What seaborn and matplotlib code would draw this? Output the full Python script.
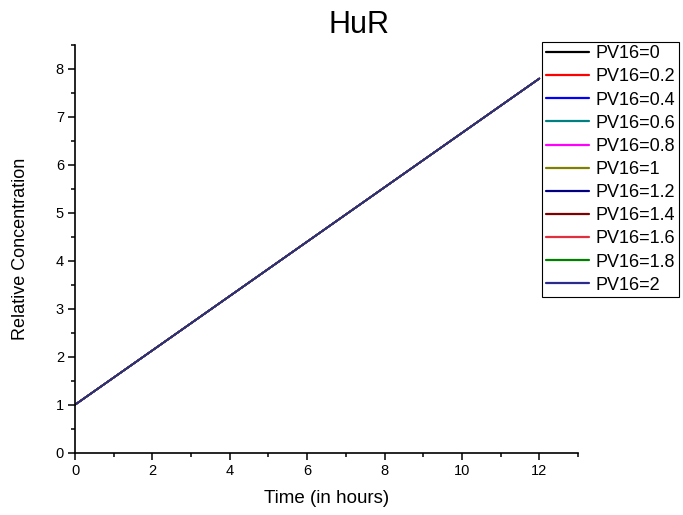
import matplotlib
matplotlib.use("Agg")
import matplotlib.pyplot as plt
import seaborn as sns
import pandas as pd
from matplotlib.ticker import MultipleLocator

# Data
time_hours = [0, 12]
concentration = [1.0, 7.8]
pv16_labels = ["PV16=0", "PV16=0.2", "PV16=0.4", "PV16=0.6", "PV16=0.8", "PV16=1",
               "PV16=1.2", "PV16=1.4", "PV16=1.6", "PV16=1.8", "PV16=2"]
series_colors = ["#000000", "#FF0000", "#0000FF", "#008080", "#FF00FF", "#808000",
                 "#000080", "#800000", "#E0303F", "#008000", "#2B2B8C"]

rows = []
for lab in pv16_labels:
    for t, c in zip(time_hours, concentration):
        rows.append({"Time": t, "Conc": c, "PV16": lab})
df = pd.DataFrame(rows)

sns.set_style("ticks")
plt.rcParams["font.family"] = ["Liberation Sans", "DejaVu Sans"]
plt.rcParams["text.color"] = "black"
plt.rcParams["axes.labelcolor"] = "black"

fig = plt.figure(figsize=(6.83, 5.15), dpi=100)
ax = fig.add_axes([75 / 683, 1 - 452.7 / 515, (578 - 75) / 683, (452.7 - 45) / 515])

sns.lineplot(data=df, x="Time", y="Conc", hue="PV16", hue_order=pv16_labels,
             palette=dict(zip(pv16_labels, series_colors)), linewidth=1.2, ax=ax,
             legend=True)

ax.set_xlim(0, 13)
ax.set_ylim(0, 8.5)
ax.xaxis.set_major_locator(MultipleLocator(2))
ax.xaxis.set_minor_locator(MultipleLocator(1))
ax.yaxis.set_major_locator(MultipleLocator(1))
ax.yaxis.set_minor_locator(MultipleLocator(0.5))
ax.tick_params(which="major", direction="out", length=5, width=1.1, labelsize=10.5, pad=3, color="black", labelcolor="black")
ax.tick_params(which="minor", direction="out", length=3, width=1.1, color="black")
for s in ["top", "right"]:
    ax.spines[s].set_visible(False)
for s in ["left", "bottom"]:
    ax.spines[s].set_linewidth(1.2)
    ax.spines[s].set_color("black")

ax.set_xlabel("Time (in hours)", fontsize=13.5, labelpad=9)
ax.set_ylabel("Relative Concentration", fontsize=13, labelpad=19)

fig.text(359 / 683, 1 - 25 / 515, "HuR", fontsize=22, ha="center", va="center", color="black")

leg = ax.legend(loc="upper left", bbox_to_anchor=(542 / 683, 1 - 41.7 / 515),
                bbox_transform=fig.transFigure, borderaxespad=0, fontsize=13,
                handlelength=2.38, handletextpad=0.39, labelspacing=0.34,
                borderpad=0.2, frameon=True, fancybox=False, title=None)
leg.get_frame().set_edgecolor("black")
leg.get_frame().set_linewidth(0.8)
leg.get_frame().set_alpha(1)
for h in leg.get_lines():
    h.set_linewidth(1.6)
for t in leg.get_texts():
    t.set_color("black")

fig.savefig("out.png", dpi=100)
